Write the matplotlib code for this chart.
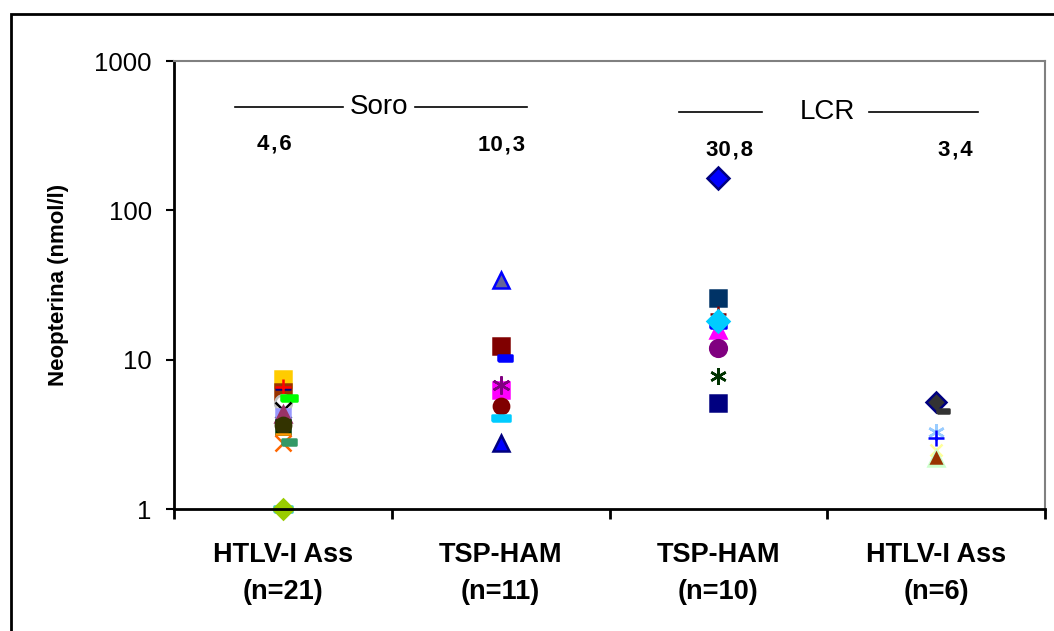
import numpy as np
import matplotlib.pyplot as plt
from matplotlib.patches import Rectangle

plt.rcParams['font.family'] = ['Liberation Sans', 'DejaVu Sans']

# groups on the x axis
categories = ['HTLV-I Ass\n(n=21)', 'TSP-HAM\n(n=11)', 'TSP-HAM\n(n=10)', 'HTLV-I Ass\n(n=6)']
medians = ['4,6', '10,3', '30,8', '3,4']

# neopterin values (nmol/l)
soro_ass = [7.4, 6.1, 6.4, 6.6, 5.1, 5.5, 4.6, 4.2, 4.3, 3.55, 3.65, 3.2, 2.75, 2.8, 1.0, 1.0]
soro_tsp = [34.0, 12.4, 10.3, 6.3, 6.75, 4.9, 4.1, 2.75]
lcr_tsp = [165.0, 25.9, 20.3, 15.8, 17.1, 18.2, 12.0, 7.8, 5.1]
lcr_ass = [5.2, 4.5, 3.3, 3.0, 2.5, 2.2, 2.2]

# marker styles, one per point: (marker, face, edge, size, x shift)
dash = [(-1, -0.38), (1, -0.38), (1, 0.38), (-1, 0.38), (-1, -0.38)]
star = (6, 2, 0)
soro_ass_style = [
    ('s', '#FFCC00', '#FFCC00', 11, 0), ('s', '#993300', '#993300', 11, 0),
    ('_', '#000080', '#000080', 11, 0), ('+', '#FF0000', '#FF0000', 12, 0),
    ('o', 'white', '#C0C0C0', 12, 0), (dash, '#00FF00', '#00FF00', 11, 0.03),
    ('x', 'black', 'black', 11, 0), ('s', '#9999FF', '#9999FF', 10, 0),
    ('^', '#993366', '#993366', 11, 0), ('s', '#003300', '#003300', 10, 0),
    ('o', '#333300', '#333300', 11, 0), ('_', '#FF9900', '#FF9900', 11, 0),
    ('x', '#FF6600', '#FF6600', 11, 0), (dash, '#339966', '#339966', 10, 0.03),
    (dash, '#33CCCC', '#33CCCC', 13, 0), ('D', '#99CC00', '#99CC00', 10, 0),
]
soro_tsp_style = [
    ('^', '#666699', '#0000FF', 12, 0), ('s', '#800000', '#800000', 12, 0),
    (dash, '#0000FF', '#0000FF', 10, 0.02), ('s', '#FF00FF', '#FF00FF', 11, 0),
    (star, '#800080', '#800080', 13, 0), ('o', '#800000', '#800000', 11, 0),
    (dash, '#00CCFF', '#00CCFF', 13, 0), ('^', '#0000FF', '#000080', 12, 0),
]
lcr_tsp_style = [
    ('D', '#0000FF', '#000080', 11, 0), ('s', '#003366', '#003366', 12, 0),
    ('+', '#800000', '#800000', 12, 0), ('^', '#FF00FF', '#FF00FF', 11, 0),
    (dash, '#0000FF', '#0000FF', 12, 0), ('D', '#00CCFF', '#00CCFF', 11, 0),
    ('o', '#800080', '#800080', 12, 0), (star, '#003300', '#003300', 12, 0),
    ('s', '#000080', '#000080', 11, 0),
]
lcr_ass_style = [
    ('D', '#333333', '#000080', 10, 0), (dash, '#333333', '#333333', 9, 0.03),
    (star, '#99CCFF', '#99CCFF', 12, 0), ('+', '#0000FF', '#0000FF', 11, 0),
    ('x', '#FFFF99', '#FFFF99', 9, 0), ('^', '#CCFFCC', '#CCFFCC', 12, 0),
    ('^', '#993300', '#993300', 7, 0),
]

groups = [(soro_ass, soro_ass_style), (soro_tsp, soro_tsp_style),
          (lcr_tsp, lcr_tsp_style), (lcr_ass, lcr_ass_style)]

fig = plt.figure(figsize=(10.54, 6.31), dpi=100)
ax = fig.add_axes([0.1651, 0.1933, 0.8264, 0.71])

for i, (vals, styles) in enumerate(groups):
    for v, (m, fc, ec, ms, dx) in zip(vals, styles):
        ax.plot(i + 0.5 + dx, v, linestyle='none', marker=m, markerfacecolor=fc,
                markeredgecolor=ec, markersize=ms, markeredgewidth=1.8, clip_on=False)

ax.set_yscale('log')
ax.set_ylim(1, 1000)
ax.set_xlim(0, 4)
ax.set_yticks([1, 10, 100, 1000])
ax.set_yticklabels(['1', '10', '100', '1000'], fontsize=18.5)
ax.minorticks_off()
ax.set_xticks([0.5, 1.5, 2.5, 3.5])
ax.set_xticklabels(categories, fontsize=19.5, fontweight='bold', linespacing=1.55)
ax.set_xticks([0, 1, 2, 3, 4], minor=True)
ax.tick_params(axis='x', which='major', length=0, pad=24)
ax.tick_params(axis='x', which='minor', length=7, width=2, direction='out')
ax.tick_params(axis='y', length=6, width=1.5, direction='out', pad=10)
ax.set_ylabel('Neopterina (nmol/l)', fontsize=16, fontweight='bold', labelpad=18)

for side in ['top', 'right']:
    ax.spines[side].set_color('#808080')
    ax.spines[side].set_linewidth(1.5)
for side in ['left', 'bottom']:
    ax.spines[side].set_linewidth(2)

# header: sample type and medians
ax.plot([0.28, 0.775], [495, 495], color='black', lw=1.2)
ax.plot([1.108, 1.62], [495, 495], color='black', lw=1.2)
ax.text(0.94, 495, 'Soro', ha='center', va='center', fontsize=20)
ax.plot([2.32, 2.70], [455, 455], color='black', lw=1.2)
ax.plot([3.19, 3.69], [455, 455], color='black', lw=1.2)
ax.text(3.0, 455, 'LCR', ha='center', va='center', fontsize=20)
med_x = [0.459, 1.504, 2.553, 3.587]
med_y = [278, 275, 254, 254]
for lab, xv, yv in zip(medians, med_x, med_y):
    ax.text(xv, yv, lab.replace(',', '\u200a,\u200a'), ha='center', va='center',
            fontsize=16, fontweight='bold')

# outer chart frame
fig.patches.append(Rectangle((11 / 1054, -0.05), 1.2, 1 - 14 / 631 + 0.05,
                             transform=fig.transFigure, fill=False,
                             edgecolor='black', linewidth=2))

fig.savefig('out.png', dpi=100)
